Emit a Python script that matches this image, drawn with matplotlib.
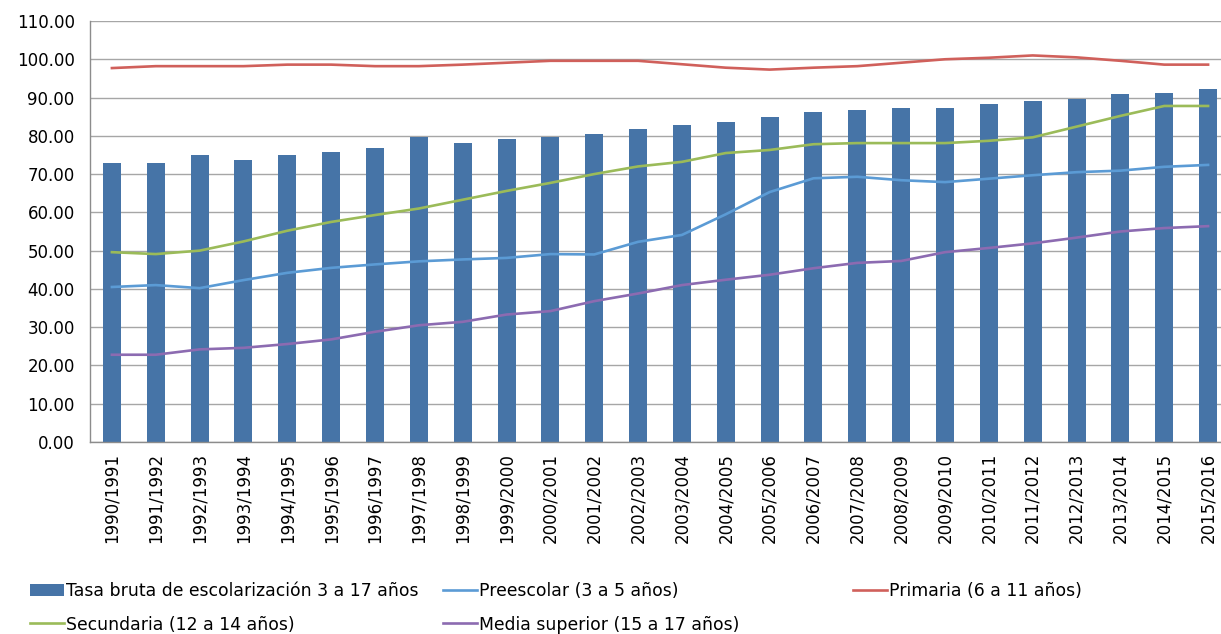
import matplotlib
matplotlib.use("Agg")
import matplotlib.pyplot as plt
import numpy as np

periods = [f"{y}/{y + 1}" for y in range(1990, 2016)]

tasa_bruta = [72.8, 72.8, 75.0, 73.6, 75.0, 75.9, 76.8, 79.6, 78.2, 79.1, 79.6, 80.4, 81.8,
              82.7, 83.6, 84.9, 86.3, 86.8, 87.2, 87.2, 88.2, 89.0, 89.5, 90.8, 91.3, 92.2]
preescolar = [40.5, 41.0, 40.2, 42.3, 44.2, 45.5, 46.4, 47.2, 47.7, 48.1, 49.1, 49.0, 52.3,
              54.1, 59.5, 65.3, 68.9, 69.3, 68.4, 67.9, 68.8, 69.7, 70.5, 70.9, 71.9, 72.4]
primaria = [97.7, 98.2, 98.2, 98.2, 98.6, 98.6, 98.2, 98.2, 98.6, 99.1, 99.6, 99.6, 99.6,
            98.7, 97.8, 97.3, 97.8, 98.2, 99.1, 100.0, 100.4, 101.0, 100.5, 99.6, 98.6, 98.6]
secundaria = [49.6, 49.1, 50.0, 52.4, 55.2, 57.5, 59.3, 61.0, 63.3, 65.6, 67.7, 70.0, 72.0,
              73.2, 75.5, 76.3, 77.8, 78.1, 78.1, 78.1, 78.7, 79.6, 82.4, 85.2, 87.8, 87.8]
media_superior = [22.8, 22.8, 24.2, 24.6, 25.6, 26.8, 28.8, 30.5, 31.4, 33.3, 34.2, 36.8, 38.8,
                  41.0, 42.4, 43.7, 45.4, 46.8, 47.3, 49.6, 50.7, 51.9, 53.4, 55.0, 55.9, 56.4]

labels = {
    "tasa": "Tasa bruta de escolarización 3 a 17 años",
    "pre": "Preescolar (3 a 5 años)",
    "pri": "Primaria (6 a 11 años)",
    "sec": "Secundaria (12 a 14 años)",
    "med": "Media superior (15 a 17 años)",
}

plt.rcParams["font.family"] = ["DejaVu Sans"]
plt.rcParams["font.size"] = 12

W, H = 1221, 634
fig = plt.figure(figsize=(W / 100, H / 100), dpi=100)
ax = fig.add_axes([90 / W, 1 - 442 / H, 1140 / W, 421 / H])

x = np.arange(len(periods))
bars = ax.bar(x, tasa_bruta, width=0.41, color="#4674A7", zorder=2, label=labels["tasa"])
lw = 1.9
l_pre, = ax.plot(x, preescolar, color="#5B9BD5", lw=lw, zorder=3, label=labels["pre"])
l_pri, = ax.plot(x, primaria, color="#D0605B", lw=lw, zorder=3, label=labels["pri"])
l_sec, = ax.plot(x, secundaria, color="#9BBB59", lw=lw, zorder=3, label=labels["sec"])
l_med, = ax.plot(x, media_superior, color="#8C6BB1", lw=lw, zorder=3, label=labels["med"])

ax.set_xlim(-0.5, len(periods) - 0.5)
ax.set_ylim(0, 110)
ax.set_yticks(np.arange(0, 111, 10))
ax.set_yticklabels([f"{v:.2f}" for v in np.arange(0, 111, 10)])
ax.set_xticks(x)
ax.set_xticklabels(periods, rotation=90)
ax.tick_params(axis="y", length=0, pad=11)
ax.tick_params(axis="x", length=0, pad=8)
ax.grid(axis="y", color="#A6A6A6", lw=1.0, zorder=0)
ax.set_axisbelow(True)
for side in ("top", "right"):
    ax.spines[side].set_visible(False)
for side in ("left", "bottom"):
    ax.spines[side].set_color("#8C8C8C")
    ax.spines[side].set_linewidth(1.0)

legend_kw = dict(frameon=False, loc="upper left", borderpad=0, borderaxespad=0,
                 handlelength=2.0, handletextpad=0.1, labelspacing=0.9, fontsize=12.4)
leg1 = fig.legend([bars, l_sec], [labels["tasa"], labels["sec"]],
                  bbox_to_anchor=(30 / W, 1 - 582 / H), **legend_kw)
leg2 = fig.legend([l_pre, l_med], [labels["pre"], labels["med"]],
                  bbox_to_anchor=(443 / W, 1 - 582 / H), **legend_kw)
leg3 = fig.legend([l_pri], [labels["pri"]],
                  bbox_to_anchor=(853 / W, 1 - 582 / H), **legend_kw)

fig.savefig("out.png", dpi=100)
